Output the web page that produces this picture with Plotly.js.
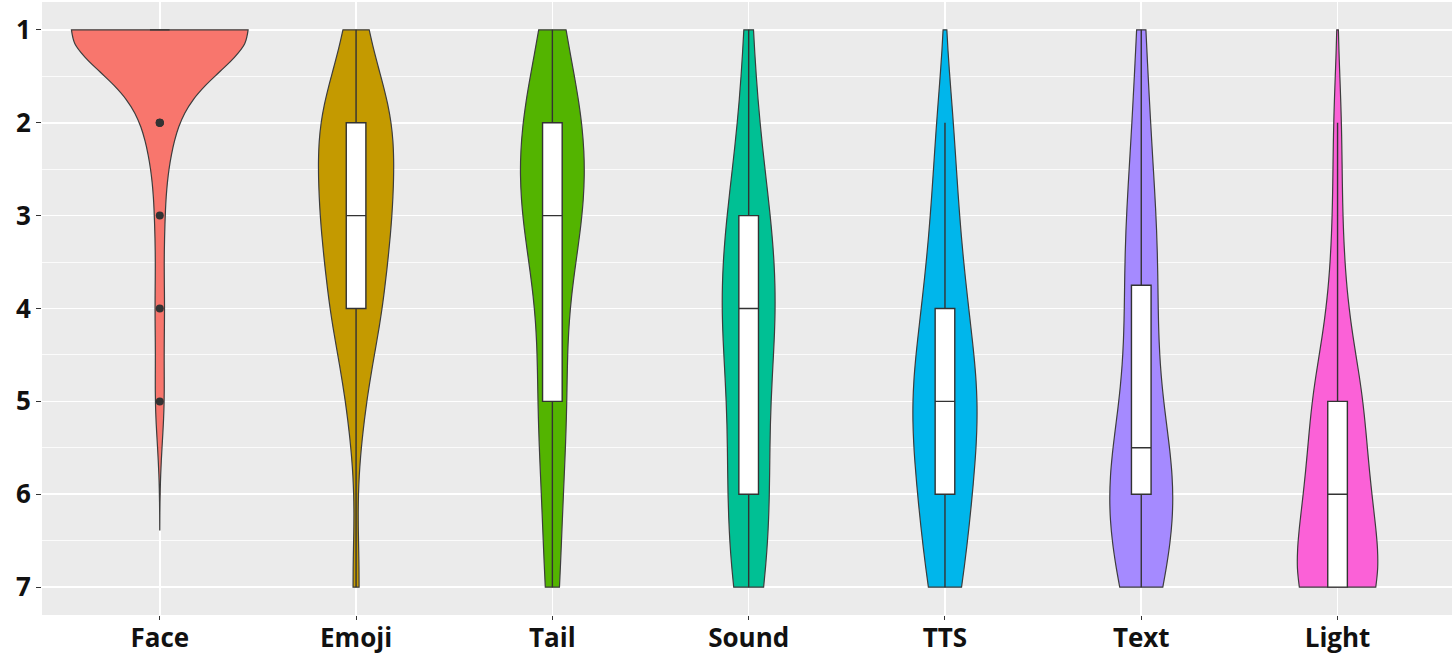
<!DOCTYPE html>
<html>
<head>
<meta charset="utf-8">
<script src="https://cdn.plot.ly/plotly-3.0.1.min.js"></script>
<style>
  html, body { margin: 0; padding: 0; background: #fff; }
  #chart { width: 1452px; height: 655px; }
</style>
</head>
<body>
<div id="chart"></div>
<script>
// Ranking de modalidades (1 = preferida). Conteo de respuestas por rango 1..7
const modalities = ['Face', 'Emoji', 'Tail', 'Sound', 'TTS', 'Text', 'Light'];
const ranks = [1, 2, 3, 4, 5, 6, 7];
const faceCounts  = [22, 3, 1, 1, 1, 0, 0];
const emojiCounts = [2, 9, 8, 6, 2, 0, 1];
const tailCounts  = [2, 8, 8, 2, 4, 2, 2];
const soundCounts = [1, 2, 5, 7, 4, 5, 4];
const ttsCounts   = [0, 2, 3, 5, 8, 6, 4];
const lightCounts = [0, 1, 1, 2, 6, 7, 11];
// Text lleva un empate (rango 3.5), por eso va como lista de respuestas
const textRanks = [1, 2, 2, 3, 3, 3, 3.5, 4, 4, 4, 5, 5, 5, 5,
                   6, 6, 6, 6, 6, 6, 6, 6, 6, 7, 7, 7, 7, 7];

const colors = ['#F8766D', '#C49A00', '#53B400', '#00C094', '#00B6EB', '#A58AFF', '#FB61D7'];

// expandir conteos a observaciones
function expand(counts) {
    const out = [];
    counts.forEach((c, i) => { for (let k = 0; k < c; k++) out.push(ranks[i]); });
    return out;
}

function quantile(sorted, p) {
    const h = (sorted.length - 1) * p;
    const lo = Math.floor(h);
    const hi = Math.min(lo + 1, sorted.length - 1);
    return sorted[lo] + (h - lo) * (sorted[hi] - sorted[lo]);
}

// ancho de banda tipo bw.nrd0 (como ggplot)
function bwNrd0(vals) {
    const n = vals.length;
    const s = vals.slice().sort((a, b) => a - b);
    const mean = vals.reduce((a, b) => a + b, 0) / n;
    const sd = Math.sqrt(vals.reduce((a, v) => a + (v - mean) * (v - mean), 0) / (n - 1));
    const iqr = quantile(s, 0.75) - quantile(s, 0.25);
    let lo = Math.min(sd, iqr / 1.34);
    if (!lo) lo = sd || 1;
    return 0.9 * lo * Math.pow(n, -0.2);
}

function kdeMax(vals, bw, a, b) {
    let best = 0;
    for (let i = 0; i <= 600; i++) {
        const t = a + (b - a) * i / 600;
        let s = 0;
        vals.forEach(v => { const z = (t - v) / bw; s += Math.exp(-0.5 * z * z); });
        best = Math.max(best, s / (vals.length * bw));
    }
    return best;
}

const samples = [
    expand(faceCounts), expand(emojiCounts), expand(tailCounts),
    expand(soundCounts), expand(ttsCounts), textRanks, expand(lightCounts)
];
const bws = samples.map(bwNrd0);
const spans = samples.map((v, i) => [
    Math.max(1, Math.min(...v) - 3 * bws[i]),
    Math.min(7, Math.max(...v) + 3 * bws[i])
]);
const peaks = samples.map((v, i) => kdeMax(v, bws[i], spans[i][0], spans[i][1]));
const peakMax = Math.max(...peaks);

const data = samples.map((vals, i) => {
    const w = 0.9 * peaks[i] / peakMax;
    return {
        type: 'violin',
        x: vals.map(() => modalities[i]),
        y: vals,
        name: modalities[i],
        bandwidth: bws[i],
        spanmode: 'manual',
        span: spans[i],
        scalemode: 'width',
        width: w,
        fillcolor: colors[i],
        opacity: 1,
        line: { color: '#3d3d3d', width: 1.2 },
        points: 'outliers',
        pointpos: 0,
        jitter: 0,
        marker: { color: '#333333', size: 8, line: { width: 0 } },
        box: {
            visible: true,
            width: 0.1 / w,
            fillcolor: '#ffffff',
            line: { color: '#333333', width: 1.4 }
        },
        meanline: { visible: false },
        hoverinfo: 'y'
    };
});

const tickFont = { family: 'Open Sans, sans-serif', size: 26, color: '#111111', weight: 700 };

const layout = {
    width: 1452,
    height: 655,
    margin: { l: 42, r: 0, t: 2, b: 40 },
    paper_bgcolor: '#ffffff',
    plot_bgcolor: '#EBEBEB',
    showlegend: false,
    violinmode: 'overlay',
    xaxis: {
        type: 'category',
        range: [-0.6, 6.583],
        showgrid: true,
        gridcolor: '#ffffff',
        gridwidth: 1.6,
        ticks: 'outside',
        ticklen: 4,
        tickcolor: '#333333',
        tickfont: tickFont,
        ticklabelstandoff: -4,
        zeroline: false,
        showline: false
    },
    yaxis: {
        range: [7.3, 0.7],
        tickmode: 'linear',
        tick0: 1,
        dtick: 1,
        ticks: 'outside',
        ticklen: 5,
        tickcolor: '#333333',
        tickfont: tickFont,
        showgrid: true,
        gridcolor: '#ffffff',
        gridwidth: 1.6,
        minor: { dtick: 0.5, tick0: 0.5, showgrid: true, gridcolor: '#ffffff', gridwidth: 0.8, ticks: '' },
        zeroline: false,
        showline: false
    }
};

Plotly.newPlot('chart', data, layout, { displayModeBar: false, staticPlot: true });
</script>
</body>
</html>
